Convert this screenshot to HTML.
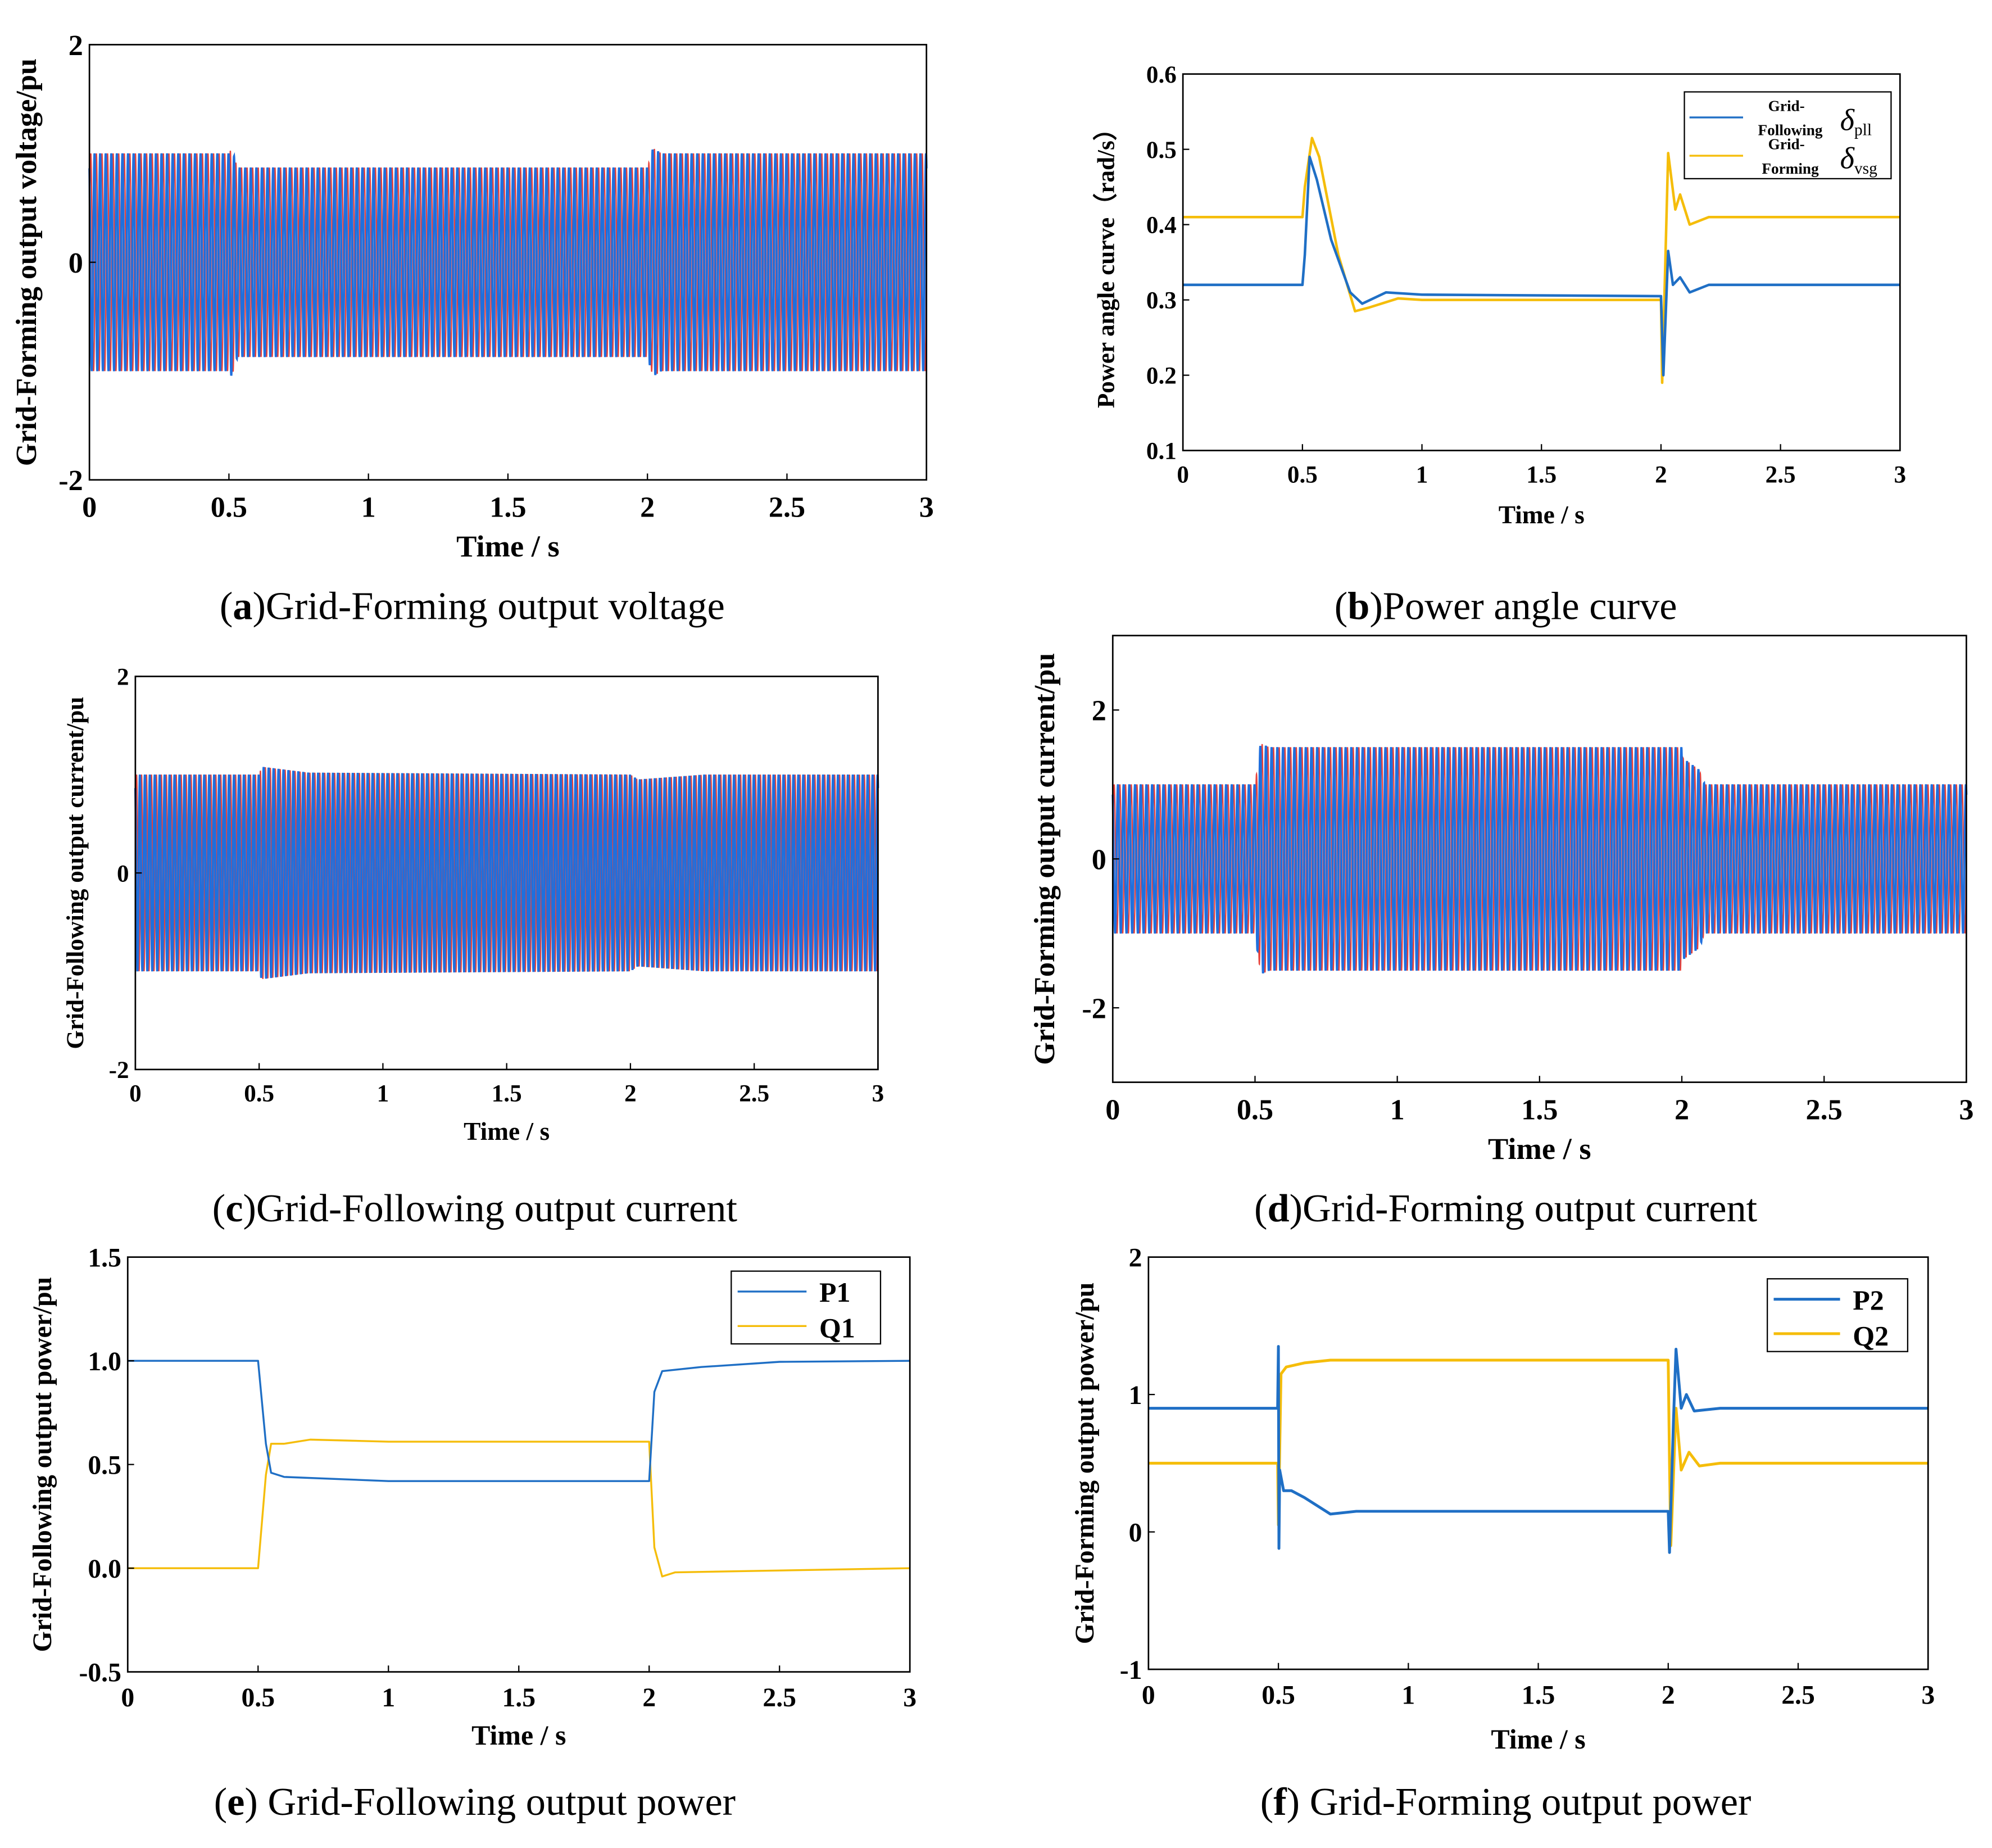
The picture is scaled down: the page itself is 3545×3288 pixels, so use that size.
<!DOCTYPE html>
<html><head><meta charset="utf-8"><style>
html,body{margin:0;padding:0;background:#fff}
svg{display:block}
text{font-family:"Liberation Serif",serif}
</style></head><body>
<svg id="s" width="3545" height="3288" viewBox="0 0 1561 1448" xmlns="http://www.w3.org/2000/svg"></svg>
<script>
// ---- data ----
const aEnvT=[0,0.5,0.51,0.53,2.0,2.02,2.05,3];
const aEnvV=[1,1,1.05,0.87,0.87,1.05,1,1];
const cEnvT=[0,0.5,0.51,0.7,2.0,2.03,2.3,3];
const cEnvV=[1,1,1.08,1.02,1,0.95,1,1];
const dEnvT=[0,0.5,0.52,0.55,2.0,2.005,2.06,2.08,3];
const dEnvV=[1,1,1.55,1.5,1.5,1.35,1.2,1,1];
const bT=[0,0.5,0.51,0.53,0.56,0.62,0.7,0.75,0.85,1.0,2.0,2.01,2.03,2.05,2.08,2.12,2.2,3];
const bPll=[0.32,0.32,0.36,0.49,0.46,0.38,0.31,0.295,0.31,0.307,0.305,0.2,0.365,0.32,0.33,0.31,0.32,0.32];
const bT2=[0,0.5,0.51,0.54,0.57,0.65,0.72,0.78,0.9,1,2,2.005,2.03,2.06,2.08,2.12,2.2,3];
const bVsg=[0.41,0.41,0.45,0.515,0.49,0.36,0.285,0.29,0.302,0.3,0.3,0.19,0.495,0.42,0.44,0.4,0.41,0.41];
const eT1=[0,0.5,0.53,0.55,0.6,1,2,2.02,2.05,2.2,2.5,3];
const eP1=[1,1,0.6,0.46,0.44,0.42,0.42,0.85,0.95,0.97,0.995,1];
const eT2=[0,0.5,0.53,0.55,0.6,0.7,1,2,2.02,2.05,2.1,3];
const eQ1=[0,0,0.45,0.6,0.6,0.62,0.61,0.61,0.1,-0.04,-0.02,0];
const fT1=[0,0.497,0.5,0.502,0.505,0.52,0.55,0.6,0.7,0.8,2,2.005,2.02,2.03,2.05,2.07,2.1,2.2,3];
const fP2=[0.9,0.9,1.35,-0.12,0.45,0.3,0.3,0.25,0.13,0.15,0.15,-0.15,0.8,1.33,0.9,1.0,0.88,0.9,0.9];
const fT2=[0,0.497,0.5,0.51,0.53,0.6,0.7,2,2.005,2.01,2.03,2.05,2.08,2.12,2.2,3];
const fQ2=[0.5,0.5,0.05,1.15,1.2,1.23,1.25,1.25,0.5,-0.1,0.9,0.45,0.58,0.48,0.5,0.5];
const xTicks=[0,0.5,1,1.5,2,2.5,3];
const xTickLabels=["0","0.5","1","1.5","2","2.5","3"];

const NS="http://www.w3.org/2000/svg";const S=document.getElementById('s');
function el(t,a,p){const e=document.createElementNS(NS,t);for(const k in a)e.setAttribute(k,a[k]);(p||S).appendChild(e);return e;}
function txt(str,a,p){const e=el('text',a,p);e.textContent=str;return e;}
function interp(T,V,t){for(let i=1;i<T.length;i++)if(t<=T[i]){const f=(t-T[i-1])/(T[i]-T[i-1]||1);return V[i-1]+f*(V[i]-V[i-1]);}return V[V.length-1];}

function panel(name,box,yMin,yMax,yTicks,yLabels,ylab,xlabY,fs,ylabX){
  const g=el('g',{});
  const [x0,y0,x1,y1]=box;
  const X=t=>x0+(t/3)*(x1-x0), Y=v=>y1-(v-yMin)/(yMax-yMin)*(y1-y0);
  const plot=el('g',{},g);
  const ax=el('rect',{x:x0,y:y0,width:x1-x0,height:y1-y0,fill:'none',stroke:'#000','stroke-width':1.2},g);
  
  xTicks.forEach((t,i)=>{el('line',{x1:X(t),x2:X(t),y1:y1,y2:y1-5,stroke:'#000'},g);
    const l=txt(xTickLabels[i],{x:X(t),y:y1+fs+6,'font-size':fs,'font-weight':'bold','text-anchor':'middle'},g);
    });
  yTicks.forEach((v,i)=>{el('line',{x1:x0,x2:x0+5,y1:Y(v),y2:Y(v),stroke:'#000'},g);
    const l=txt(yLabels[i],{x:x0-5,y:Y(v)+fs*0.35,'font-size':fs,'font-weight':'bold','text-anchor':'end'},g);
    });
  const xt=txt('Time / s',{x:(x0+x1)/2,y:xlabY,'font-size':fs+1,'font-weight':'bold','text-anchor':'middle'},g);
  
  const cy=(y0+y1)/2;
  const yt=txt(ylab,{x:ylabX,y:cy,'font-size':fs,'font-weight':'bold','text-anchor':'middle',transform:`rotate(-90 ${ylabX} ${cy})`},g);
  
  return {g:plot,X,Y};
}
function line(p,T,V,color,w,name){let d='';for(let i=0;i<T.length;i++)d+=(i?'L':'M')+p.X(T[i]).toFixed(2)+' '+p.Y(V[i]).toFixed(2);
  const e=el('path',{d,fill:'none',stroke:color,'stroke-width':w,'stroke-linejoin':'round'},p.g);
  }
function wave(p,ET,EV,name){
  [[ '#e8413a',0,1.0],['#1f6fdd',2.1,1.7]].forEach(([c,ph,w],k)=>{let d='';const N=9000;
    for(let i=0;i<=N;i++){const t=3*i/N;const v=interp(ET,EV,t)*Math.sin(2*Math.PI*50*t+ph);d+=(i?'L':'M')+p.X(t).toFixed(2)+' '+p.Y(v).toFixed(2);}
    const e=el('path',{d,fill:'none',stroke:c,'stroke-width':w},p.g);
    });
}
function caption(x,y,letter,rest,name){const t=el('text',{x,y,'font-size':31,'text-anchor':'middle'});
  
  const a=el('tspan',{},t);a.textContent='(';const b=el('tspan',{'font-weight':'bold'},t);b.textContent=letter;const c=el('tspan',{},t);c.textContent=')'+rest;}

// (a)
let pa=panel('panel-a',[70,35,726,376],-2,2,[2,0,-2],['2','0','-2'],'Grid-Forming output voltage/pu',436,23,28);
wave(pa,aEnvT,aEnvV,'voltage-waveform');
caption(370,485,'a','Grid-Forming output voltage','caption-a');
// (b)
let pb=panel('panel-b',[927,58,1489,353],0.1,0.6,[0.1,0.2,0.3,0.4,0.5,0.6],['0.1','0.2','0.3','0.4','0.5','0.6'],'Power angle curve\uFF08rad/s\uFF09',410,19,873);
line(pb,bT2,bVsg,'#f5bd0a',2,'delta-vsg-line');
line(pb,bT,bPll,'#1f6fc5',2,'delta-pll-line');
(function(){const g=el('g',{});
 el('rect',{x:1320,y:72,width:162,height:68,fill:'#fff',stroke:'#000'},g);
 el('line',{x1:1324,x2:1366,y1:92,y2:92,stroke:'#1f6fc5','stroke-width':1.5},g);
 el('line',{x1:1324,x2:1366,y1:122,y2:122,stroke:'#f5bd0a','stroke-width':1.5},g);
 txt('Grid-',{x:1400,y:87,'font-size':12,'font-weight':'bold','text-anchor':'middle'},g);
 txt('Following',{x:1403,y:106,'font-size':12,'font-weight':'bold','text-anchor':'middle'},g);
 txt('Grid-',{x:1400,y:117,'font-size':12,'font-weight':'bold','text-anchor':'middle'},g);
 txt('Forming',{x:1403,y:136,'font-size':12,'font-weight':'bold','text-anchor':'middle'},g);
 const t1=el('text',{x:1442,y:102,'font-size':24,'font-style':'italic'},g);t1.textContent='\u03B4';const s1=el('tspan',{'font-size':13,'font-style':'normal',dy:4},t1);s1.textContent='pll';
 const t2=el('text',{x:1442,y:132,'font-size':24,'font-style':'italic'},g);t2.textContent='\u03B4';const s2=el('tspan',{'font-size':13,'font-style':'normal',dy:4},t2);s2.textContent='vsg';})();
caption(1180,485,'b','Power angle curve','caption-b');
// (c)
let pc=panel('panel-c',[106,530,688,838],-2,2,[2,0,-2],['2','0','-2'],'Grid-Following output current/pu',893,19,65);
wave(pc,cEnvT,cEnvV,'gfl-current-waveform');
caption(372,957,'c','Grid-Following output current','caption-c');
// (d)
let pd=panel('panel-d',[872,498,1541,848],-3,3,[2,0,-2],['2','0','-2'],'Grid-Forming output current/pu',908,23,826);
wave(pd,dEnvT,dEnvV,'gfm-current-waveform');
caption(1180,957,'d','Grid-Forming output current','caption-d');
// (e)
let pe=panel('panel-e',[100,985,713,1310],-0.5,1.5,[1.5,1.0,0.5,0.0,-0.5],['1.5','1.0','0.5','0.0','-0.5'],'Grid-Following output power/pu',1367,21,40);
line(pe,eT2,eQ1,'#f5bd0a',1.5,'q1-line');
line(pe,eT1,eP1,'#1f6fc5',1.5,'p1-line');
(function(){const g=el('g',{});
 el('rect',{x:573,y:996,width:117,height:57,fill:'#fff',stroke:'#000'},g);
 el('line',{x1:578,x2:632,y1:1012,y2:1012,stroke:'#1f6fc5','stroke-width':1.5},g);
 el('line',{x1:578,x2:632,y1:1039,y2:1039,stroke:'#f5bd0a','stroke-width':1.5},g);
 txt('P1',{x:642,y:1020,'font-size':22,'font-weight':'bold'},g);
 txt('Q1',{x:642,y:1048,'font-size':22,'font-weight':'bold'},g);})();
caption(372,1422,'e',' Grid-Following output power','caption-e');
// (f)
let pf=panel('panel-f',[900,985,1511,1308],-1,2,[2,1,0,-1],['2','1','0','-1'],'Grid-Forming output power/pu',1370,21,857);
line(pf,fT2,fQ2,'#f5bd0a',2.2,'q2-line');
line(pf,fT1,fP2,'#1f6fc5',2.2,'p2-line');
(function(){const g=el('g',{});
 el('rect',{x:1385,y:1002,width:110,height:57,fill:'#fff',stroke:'#000'},g);
 el('line',{x1:1390,x2:1442,y1:1018,y2:1018,stroke:'#1f6fc5','stroke-width':2.2},g);
 el('line',{x1:1390,x2:1442,y1:1045,y2:1045,stroke:'#f5bd0a','stroke-width':2.2},g);
 txt('P2',{x:1452,y:1026,'font-size':22,'font-weight':'bold'},g);
 txt('Q2',{x:1452,y:1054,'font-size':22,'font-weight':'bold'},g);})();
caption(1180,1422,'f',' Grid-Forming output power','caption-f');
</script>
</body></html>
